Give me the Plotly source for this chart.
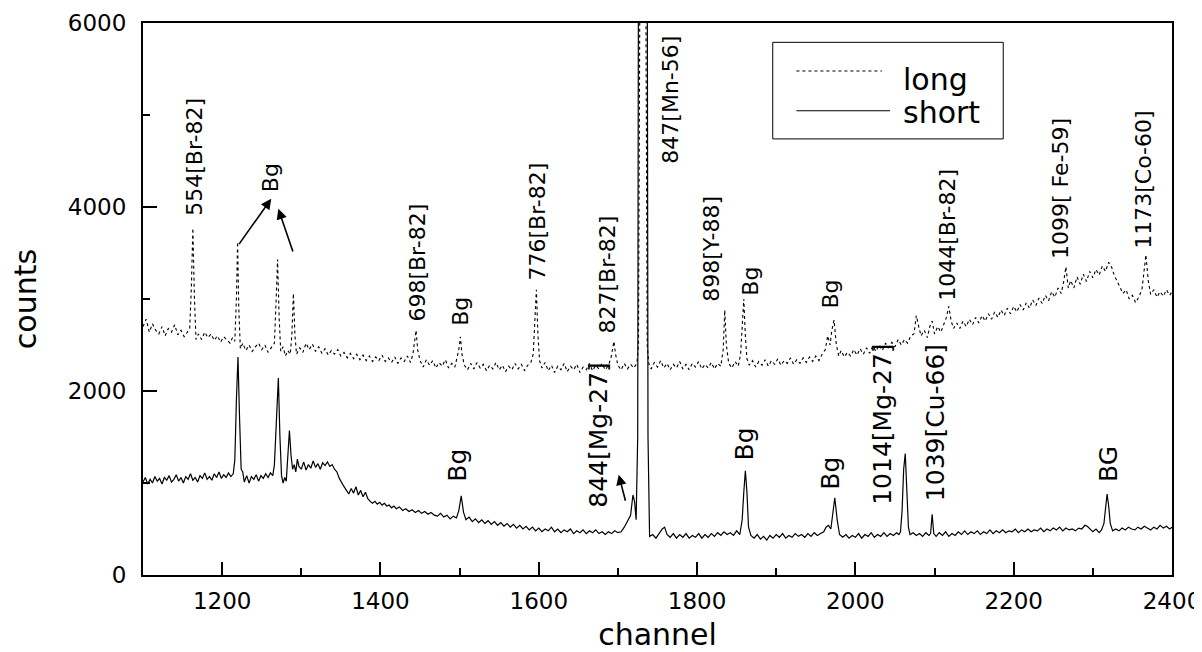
import plotly.graph_objects as go

# ---------------- data ----------------
# "short" irradiation spectrum: (channel, counts)
short_pts = [
    (1100,1010),(1103,1060),(1106,990),(1109,1040),(1112,1000),(1115,1070),(1118,1020),(1121,1050),
    (1124,990),(1127,1060),(1130,1030),(1133,1080),(1136,1010),(1139,1040),(1142,1090),(1145,1020),
    (1148,1060),(1151,1000),(1154,1070),(1157,1040),(1160,1100),(1163,1030),(1166,1060),(1169,1010),
    (1172,1080),(1175,1050),(1178,1110),(1181,1040),(1184,1070),(1187,1030),(1190,1100),(1193,1060),
    (1196,1120),(1199,1050),(1202,1090),(1205,1060),(1208,1110),(1211,1070),(1214,1100),
    (1216,1250),(1218,1900),(1220,2370),(1222,1700),(1224,1150),
    (1226,1120),(1228,1010),(1231,1080),(1234,1000),(1237,1070),(1240,1040),(1243,1090),(1246,1020),
    (1249,1080),(1252,1050),(1255,1100),(1258,1060),(1261,1110),(1264,1080),
    (1266,1200),(1268,1650),(1271,2140),(1273,1500),(1275,1080),(1277,1000),(1279,1060),(1281,1020),
    (1283,1250),(1285,1570),(1287,1300),(1289,1150),(1291,1200),(1293,1120),(1295,1260),(1297,1180),
    (1300,1150),(1303,1230),(1306,1140),(1309,1200),(1312,1160),(1315,1240),(1318,1170),(1321,1210),
    (1324,1150),(1327,1220),(1330,1190),(1333,1230),(1336,1180),(1339,1200),(1342,1150),(1345,1120),
    (1348,1050),(1351,1000),(1354,960),(1357,920),(1360,880),(1363,940),(1366,890),(1369,960),
    (1372,870),(1375,920),(1378,850),(1381,900),(1384,830),(1387,800),(1390,780),(1393,800),
    (1396,770),(1399,790),(1402,760),(1405,780),(1408,750),(1411,760),(1414,730),(1417,750),
    (1420,720),(1424,740),(1428,700),(1432,720),(1436,690),(1440,710),(1444,680),(1448,700),
    (1452,670),(1456,690),(1460,660),(1464,680),(1468,650),(1472,640),(1476,670),(1480,630),
    (1484,650),(1488,610),(1492,640),(1496,620),
    (1499,700),(1502,860),(1505,680),(1508,600),
    (1512,630),(1516,580),(1520,610),(1524,570),(1528,600),(1532,560),(1536,590),(1540,550),
    (1544,580),(1548,540),(1552,570),(1556,530),(1560,560),(1564,520),(1568,550),(1572,510),
    (1576,540),(1580,500),(1584,530),(1588,490),(1592,520),(1596,480),(1600,510),(1604,470),
    (1608,500),(1612,480),(1616,520),(1620,470),(1624,500),(1628,460),(1632,490),(1636,470),
    (1640,500),(1644,450),(1648,480),(1652,460),(1656,490),(1660,450),(1664,480),(1668,460),
    (1672,490),(1676,450),(1680,470),(1684,440),(1688,470),(1692,450),(1696,480),(1700,460),
    (1704,470),(1708,520),(1712,580),(1716,650),(1719,870),(1721,800),(1723,600),
    (1725,1500),(1726,7000),(1731,30000),(1737,7000),(1738,1500),(1740,420),
    (1744,440),(1748,400),(1752,450),(1756,500),(1759,520),(1762,440),(1766,410),(1770,450),
    (1774,400),(1778,440),(1782,410),(1786,450),(1790,400),(1794,430),(1798,410),(1802,450),
    (1806,400),(1810,440),(1814,410),(1818,450),(1822,420),(1826,460),(1830,430),(1834,470),
    (1838,440),(1842,460),(1846,430),(1850,480),(1854,440),
    (1857,600),(1859,900),(1861,1134),(1863,900),(1865,520),(1868,430),
    (1872,400),(1876,440),(1880,390),(1884,420),(1888,380),(1892,430),(1896,400),(1900,440),
    (1904,410),(1908,450),(1912,400),(1916,430),(1920,410),(1924,450),(1928,420),(1932,440),
    (1936,410),(1940,450),(1944,420),(1948,460),(1952,430),(1956,450),(1960,470),(1963,520),
    (1966,540),(1969,500),(1971,650),(1974,840),(1977,600),(1980,440),
    (1984,410),(1988,440),(1992,400),(1996,430),(2000,410),(2004,450),(2008,400),(2012,440),
    (2016,420),(2020,460),(2024,410),(2028,440),(2032,420),(2036,460),(2040,420),(2044,450),
    (2048,430),(2052,460),(2055,440),(2057,470),(2059,700),(2061,1150),(2063,1320),(2065,900),
    (2067,520),(2069,440),
    (2073,460),(2077,430),(2081,450),(2085,420),(2089,460),(2093,430),(2095,450),(2097,660),
    (2099,450),(2102,420),
    (2106,460),(2110,430),(2114,470),(2118,420),(2122,450),(2126,430),(2130,470),(2134,440),
    (2138,480),(2142,440),(2146,470),(2150,450),(2154,480),(2158,440),(2162,470),(2166,450),
    (2170,490),(2174,450),(2178,480),(2182,460),(2186,490),(2190,460),(2194,480),(2198,470),
    (2202,500),(2206,460),(2210,490),(2214,470),(2218,500),(2222,470),(2226,490),(2230,480),
    (2234,510),(2238,470),(2242,500),(2246,480),(2250,510),(2254,490),(2258,520),(2262,480),
    (2266,510),(2270,490),(2274,500),(2278,480),(2282,510),(2286,500),(2290,540),(2293,530),
    (2296,500),(2300,470),(2304,500),(2308,460),(2311,490),(2314,560),(2316,720),(2318,880),
    (2320,750),(2322,560),(2325,480),
    (2329,500),(2333,480),(2337,510),(2341,490),(2345,520),(2349,500),(2353,490),(2357,520),
    (2361,500),(2365,530),(2369,510),(2373,490),(2377,520),(2381,500),(2385,540),(2389,510),
    (2393,530),(2397,500),(2400,520),
]

# "long" irradiation spectrum: (channel, counts)
long_pts = [
    (1100,2700),(1104,2780),(1108,2640),(1112,2730),(1116,2660),(1120,2620),(1124,2700),(1128,2600),
    (1132,2680),(1136,2640),(1140,2720),(1144,2610),(1148,2660),(1152,2590),(1156,2640),(1159,2680),
    (1161,3100),(1163,3770),(1165,3000),(1167,2560),(1170,2620),(1174,2560),(1178,2640),(1182,2580),
    (1186,2620),(1190,2550),(1194,2600),(1198,2530),(1202,2590),(1206,2560),(1210,2520),(1213,2580),
    (1216,2540),(1218,3000),(1219.5,3620),(1221,2900),(1223,2460),(1226,2520),(1230,2440),(1234,2500),
    (1238,2430),(1242,2480),(1246,2520),(1250,2450),(1254,2500),(1258,2420),(1262,2470),(1266,2520),
    (1268,2950),(1270,3430),(1272,2800),(1274,2430),(1277,2480),(1280,2380),(1283,2440),(1286,2400),
    (1288,2600),(1290,3060),(1292,2600),(1294,2400),(1298,2470),(1302,2420),(1306,2520),(1310,2450),
    (1314,2510),(1318,2430),(1322,2480),(1326,2410),(1330,2460),(1334,2390),(1338,2440),(1342,2400),
    (1346,2450),(1350,2380),(1354,2420),(1358,2360),(1362,2410),(1366,2350),(1370,2400),(1374,2340),
    (1378,2390),(1382,2330),(1386,2380),(1390,2320),(1394,2370),(1398,2330),(1402,2390),(1406,2320),
    (1410,2360),(1414,2310),(1418,2370),(1422,2300),(1426,2360),(1430,2320),(1434,2380),(1438,2310),
    (1441,2400),(1443,2550),(1445,2660),(1447,2450),(1450,2330),(1454,2260),(1458,2340),(1462,2280),
    (1466,2330),(1470,2250),(1474,2310),(1478,2270),(1482,2340),(1486,2250),(1490,2300),(1494,2260),
    (1497,2360),(1499,2450),(1501,2590),(1503,2400),(1506,2280),(1510,2230),(1514,2300),(1518,2240),
    (1522,2310),(1526,2250),(1530,2290),(1534,2220),(1538,2280),(1542,2240),(1546,2310),(1550,2230),
    (1554,2280),(1558,2210),(1562,2270),(1566,2230),(1570,2300),(1574,2240),(1578,2290),(1582,2220),
    (1586,2280),(1590,2310),(1593,2400),(1595,2700),(1597,3100),(1599,2600),(1601,2330),(1604,2250),
    (1608,2310),(1612,2220),(1616,2280),(1620,2200),(1624,2270),(1628,2230),(1632,2300),(1636,2210),
    (1640,2270),(1644,2230),(1648,2290),(1652,2200),(1656,2260),(1660,2230),(1664,2300),(1668,2220),
    (1672,2280),(1676,2240),(1680,2300),(1684,2230),(1688,2280),(1691,2350),(1693,2450),(1695,2540),
    (1697,2400),(1700,2280),(1704,2230),(1708,2300),(1712,2240),(1716,2290),(1720,2250),(1724,2300),
    (1726,2500),(1728,7000),(1732,30000),(1735,7000),(1737,2500),(1739,2300),(1742,2240),(1746,2310),
    (1750,2260),(1754,2330),(1758,2250),(1762,2300),(1766,2230),(1770,2290),(1774,2250),(1778,2320),
    (1782,2240),(1786,2290),(1790,2230),(1794,2300),(1798,2260),(1802,2320),(1806,2240),(1810,2290),
    (1814,2250),(1818,2310),(1822,2240),(1826,2300),(1830,2270),(1833,2450),(1835,2880),(1837,2500),
    (1840,2300),(1844,2250),(1848,2320),(1852,2270),(1855,2400),(1857,2750),(1859,3000),(1861,2600),
    (1863,2350),(1866,2280),(1870,2330),(1874,2260),(1878,2320),(1882,2280),(1886,2340),(1890,2270),
    (1894,2330),(1898,2290),(1902,2350),(1906,2280),(1910,2330),(1914,2300),(1918,2360),(1922,2290),
    (1926,2340),(1930,2300),(1934,2360),(1938,2310),(1942,2370),(1946,2320),(1950,2380),(1954,2330),
    (1958,2400),(1962,2450),(1965,2600),(1968,2500),(1970,2650),(1973,2770),(1976,2500),(1979,2380),
    (1982,2440),(1986,2370),(1990,2420),(1994,2380),(1998,2450),(2002,2390),(2006,2460),(2010,2400),
    (2014,2470),(2018,2410),(2022,2490),(2026,2430),(2030,2500),(2034,2440),(2038,2520),(2042,2470),
    (2046,2530),(2050,2480),(2054,2560),(2058,2500),(2062,2560),(2066,2520),(2070,2600),(2074,2620),
    (2077,2820),(2080,2700),(2083,2600),(2087,2660),(2091,2580),(2094,2700),(2097,2760),(2100,2620),
    (2104,2700),(2108,2640),(2112,2720),(2115,2800),(2118,2920),(2121,2760),(2124,2680),(2128,2740),
    (2132,2680),(2136,2760),(2140,2700),(2144,2780),(2148,2720),(2152,2800),(2156,2740),(2160,2820),
    (2164,2760),(2168,2840),(2172,2780),(2176,2860),(2180,2800),(2184,2880),(2188,2820),(2192,2900),
    (2196,2840),(2200,2920),(2204,2860),(2208,2940),(2212,2880),(2216,2960),(2220,2900),(2224,2990),
    (2228,2930),(2232,3010),(2236,2950),(2240,3040),(2244,2980),(2248,3080),(2252,3020),(2256,3120),
    (2260,3060),(2263,3180),(2266,3350),(2269,3120),(2272,3200),(2276,3120),(2280,3240),(2284,3160),
    (2288,3270),(2292,3190),(2296,3300),(2300,3230),(2304,3320),(2308,3260),(2312,3360),(2316,3300),
    (2320,3400),(2324,3340),(2327,3260),(2330,3200),(2334,3120),(2338,3060),(2342,3100),(2346,3000),
    (2350,3040),(2354,2960),(2358,3020),(2362,3100),(2364,3250),(2367,3480),(2370,3200),(2373,3050),
    (2377,3100),(2381,3020),(2385,3080),(2389,3030),(2393,3100),(2397,3040),(2400,3080),
]

short_ch = [p[0] for p in short_pts]
short_counts = [p[1] for p in short_pts]
long_ch = [p[0] for p in long_pts]
long_counts = [p[1] for p in long_pts]

# peak labels: (text, channel, counts at the foot of the label)
upper_labels = [
    ("554[Br-82]", 1164, 3890),
    ("Bg", 1261, 4150),
    ("698[Br-82]", 1447, 2740),
    ("Bg", 1500, 2700),
    ("776[Br-82]", 1599, 3190),
    ("827[Br-82]", 1687, 2610),
    ("847[Mn-56]", 1767, 4460),
    ("898[Y-88]", 1819, 2960),
    ("Bg", 1868, 3030),
    ("Bg", 1968, 2880),
    ("1044[Br-82]", 2117, 2970),
    ("1099[ Fe-59]", 2260, 3420),
    ("1173[Co-60]", 2364, 3530),
]
lower_labels = [
    ("Bg", 1497, 1000),
    ("844[Mg-27]", 1676, 720),
    ("Bg", 1860, 1235),
    ("Bg", 1969, 920),
    ("1014[Mg-27]", 2034, 750),
    ("1039[Cu-66]", 2101, 790),
    ("BG", 2319, 1000),
]
# arrows: (tail channel, tail counts, head channel, head counts)
arrows = [
    (1220, 3580, 1262, 4090),
    (1290, 3500, 1271, 3980),
    (1710, 790, 1701, 1090),
]

FONT = "DejaVu Sans"

fig = go.Figure()
fig.add_trace(go.Scatter(x=long_ch, y=long_counts, mode="lines", name="long",
                         line=dict(color="black", width=1.1, dash="dot"), showlegend=False))
fig.add_trace(go.Scatter(x=short_ch, y=short_counts, mode="lines", name="short",
                         line=dict(color="black", width=1.2), showlegend=False))

annotations = []
for labels, fsize in ((upper_labels, 22), (lower_labels, 25)):
    for txt, ch, c in labels:
        annotations.append(dict(x=ch, y=c, xref="x", yref="y", text=txt, showarrow=False,
                                textangle=-90, xanchor="center", yanchor="bottom",
                                font=dict(family=FONT, size=fsize, color="black"), borderpad=0))
for tx, ty, hx, hy in arrows:
    annotations.append(dict(x=hx, y=hy, ax=tx, ay=ty, xref="x", yref="y", axref="x", ayref="y",
                            text="", showarrow=True, arrowhead=2, arrowsize=1.3, arrowwidth=1.6,
                            arrowcolor="black", standoff=0))

# manual legend box (paper coordinates)
annotations.append(dict(x=0.737, y=0.897, xref="paper", yref="paper", text="long", showarrow=False,
                        xanchor="left", yanchor="middle", font=dict(family=FONT, size=30, color="black")))
annotations.append(dict(x=0.737, y=0.838, xref="paper", yref="paper", text="short", showarrow=False,
                        xanchor="left", yanchor="middle", font=dict(family=FONT, size=30, color="black")))
shapes = [
    dict(type="rect", xref="paper", yref="paper", x0=0.612, x1=0.836, y0=0.790, y1=0.965,
         line=dict(color="black", width=1), fillcolor="white", layer="below"),
    dict(type="line", xref="paper", yref="paper", x0=0.635, x1=0.718, y0=0.913, y1=0.913,
         line=dict(color="black", width=1.1, dash="dot")),
    dict(type="line", xref="paper", yref="paper", x0=0.635, x1=0.726, y0=0.841, y1=0.841,
         line=dict(color="black", width=1.2)),
]

# the page body adds an 8 px margin, so the figure is sized to fit inside the window
fig.update_layout(
    width=1194, height=644,
    margin=dict(l=135, r=30, t=15, b=77, autoexpand=False),
    paper_bgcolor="white", plot_bgcolor="white",
    font=dict(family=FONT, color="black"),
    annotations=annotations, shapes=shapes,
    showlegend=False,
)
fig.update_xaxes(
    range=[1100, 2400], tick0=1200, dtick=200, ticks="inside", ticklen=13, tickwidth=2,
    tickcolor="black", showline=True, linewidth=2, linecolor="black", mirror=True,
    showgrid=False, zeroline=False, tickfont=dict(family=FONT, size=23, color="black"),
    ticklabelstandoff=4, automargin=False,
    minor=dict(ticks="inside", ticklen=7, tickwidth=2, tickcolor="black", dtick=100, tick0=1100, showgrid=False),
    title=dict(text="channel", font=dict(family=FONT, size=30, color="black"), standoff=12),
)
fig.update_yaxes(
    range=[0, 6000], tick0=0, dtick=2000, ticks="inside", ticklen=14, tickwidth=2,
    tickcolor="black", showline=True, linewidth=2, linecolor="black", mirror=True,
    showgrid=False, zeroline=False, tickfont=dict(family=FONT, size=23, color="black"),
    ticklabelstandoff=10, automargin=False,
    minor=dict(ticks="inside", ticklen=7, tickwidth=2, tickcolor="black", dtick=1000, tick0=0, showgrid=False),
    title=dict(text="counts", font=dict(family=FONT, size=30, color="black"), standoff=27),
)

fig.write_html("out.html")
